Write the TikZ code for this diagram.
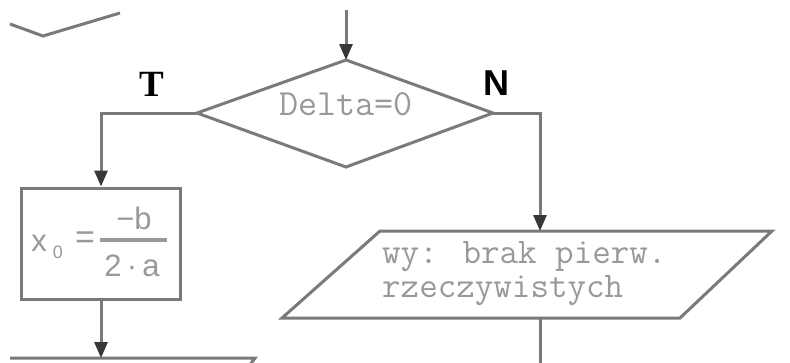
\documentclass[tikz,border=0pt]{standalone}
\usepackage{fontspec}
\setmainfont{Liberation Serif}
\newfontfamily\sansfont{Liberation Sans}
\usetikzlibrary{arrows.meta}
\definecolor{linegray}{gray}{0.48}
\definecolor{tipgray}{gray}{0.22}
\definecolor{textgray}{gray}{0.6}
\tikzset{
  flow/.style={draw=linegray, line width=3pt, line join=miter},
  arrowline/.style={flow, -{Triangle[width=13pt,length=16pt,color=tipgray]}},
  codetext/.style={text=textgray, inner sep=0pt, font=\ttfamily\fontsize{36}{36}\selectfont},
  formtext/.style={text=textgray, inner sep=0pt, font=\sansfont\fontsize{31}{31}\selectfont},
  branchlabel/.style={inner sep=0pt, text=black}
}
\begin{document}
\begin{tikzpicture}[x=1pt,y=-1pt]
\useasboundingbox (0,0) rectangle (790,362);

% lower corner of the shape above
\draw[flow] (10,24) -- (43,36) -- (120,13);

% decision diamond
\coordinate (entry) at (346,10);
\coordinate (dtop) at (346,60);
\coordinate (dright) at (493,113);
\coordinate (dbot) at (346,167);
\coordinate (dleft) at (197,113);
\draw[flow] (dtop) -- (dright) -- (dbot) -- (dleft) -- cycle;
\node[codetext, font=\ttfamily\fontsize{37}{37}\selectfont] (cond) at (346,104) {Delta=0};
\draw[arrowline] (entry) -- (dtop);

% branch labels
\node[branchlabel, font=\bfseries\fontsize{37}{37}\selectfont] (tlab) at (152,84) {T};
\node[branchlabel, font=\sansfont\bfseries\fontsize{36}{36}\selectfont] (nlab) at (496,83) {N};

% process box with the root formula
\node[draw=linegray, line width=3pt, minimum width=159pt, minimum height=111pt, inner sep=0pt] (calc) at (101,243.5) {};
\node[formtext] (xvar) at (39,243) {x};
\node[formtext, font=\sansfont\fontsize{18}{18}\selectfont] (xsub) at (58,252) {0};
\node[formtext, font=\sansfont\fontsize{34}{34}\selectfont] (eqs) at (85,240) {=};
\node[formtext] (num) at (134,218) {−b};
\node[formtext] (den) at (132,266) {2\,·\,a};
\coordinate (barl) at (100,240);
\coordinate (barr) at (167,240);
\draw[draw=textgray, line width=3.5pt] (barl) -- (barr);
\draw[arrowline] (dleft) -| (calc.north);

% output parallelogram
\coordinate (p1) at (380,231);
\coordinate (p2) at (772,231);
\coordinate (p3) at (680,318);
\coordinate (p4) at (282,318);
\draw[flow] (p1) -- (p2) -- (p3) -- (p4) -- cycle;
\node[codetext, anchor=base west] (msga) at (382,263) {wy: brak pierw.};
\node[codetext, anchor=base west] (msgb) at (382,297) {rzeczywistych};
\coordinate (ptop) at (540,231);
\coordinate (pbot) at (540,318);
\coordinate (pexit) at (540,366);
\draw[arrowline] (dright) -| (ptop);
\draw[flow] (pbot) -- (pexit);

% next output block below the formula
\coordinate (q1) at (10,358);
\coordinate (qmid) at (101,358);
\coordinate (q2) at (255,358);
\coordinate (q3) at (249,366);
\draw[flow] (q1) -- (q2) -- (q3);
\draw[arrowline] (calc.south) -- (qmid);
\end{tikzpicture}
\end{document}
